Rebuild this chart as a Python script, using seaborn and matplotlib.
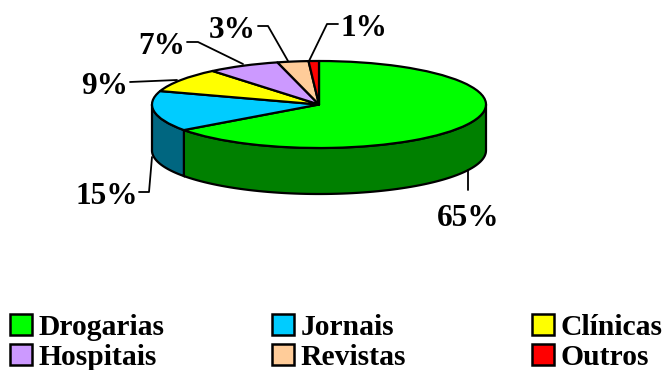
import matplotlib
matplotlib.use("Agg")
import matplotlib.pyplot as plt
import numpy as np
import seaborn as sns
from matplotlib.patches import Polygon, Patch

# Market share by sales channel
channels = ["Drogarias", "Jornais", "Clínicas", "Hospitais", "Revistas", "Outros"]
shares = [65, 15, 9, 7, 3, 1]
slice_colors = ["#00FF00", "#00CCFF", "#FFFF00", "#CC99FF", "#FFCC99", "#FF0000"]

W, H = 662, 370
sns.set_theme(style="white")
plt.rcParams["font.family"] = ["Liberation Serif", "DejaVu Serif"]
plt.rcParams["font.weight"] = "bold"

fig = plt.figure(figsize=(W / 100, H / 100), dpi=100, facecolor="white")


def px(x, y):
    """Pixel position (origin top-left) to figure fraction."""
    return x / W, 1 - y / H


# Axes spanning the top ellipse of the pie: unit circle squashed by the axes box
cx, cy, rx, ry, depth = 319, 104.5, 167, 43.5, 46
ax = fig.add_axes([(cx - rx) / W, 1 - (cy + ry) / H, 2 * rx / W, 2 * ry / H])
palette = sns.color_palette(slice_colors)
wedges, _ = ax.pie(
    shares, colors=palette, startangle=90, counterclock=False, radius=1,
    wedgeprops=dict(edgecolor="black", linewidth=1.6, joinstyle="round", clip_on=False, zorder=3),
)
ax.set_aspect("auto")
ax.set_xlim(-1, 1)
ax.set_ylim(-1, 1)
ax.axis("off")

# Extruded rim: only the part of each slice on the front half of the ellipse shows
drop = depth / ry
for wedge, color in zip(wedges, palette):
    lo, hi = max(wedge.theta1, -180), min(wedge.theta2, 0)
    if hi <= lo:
        continue
    t = np.radians(np.linspace(lo, hi, 80))
    x, y = np.cos(t), np.sin(t)
    pts = np.r_[np.c_[x, y], np.c_[x, y - drop][::-1]]
    ax.add_patch(Polygon(pts, closed=True, facecolor=np.array(color) * 0.5,
                         edgecolor="black", linewidth=1.6, clip_on=False, zorder=2))

# Percentage labels with elbowed leader lines
callouts = [
    ((468, 219), [(468, 170), (468, 190)]),
    ((107, 196), [(152, 157), (149, 192), (139, 192)]),
    ((105, 87), [(177, 80), (130, 82)]),
    ((162, 46), [(243, 64), (198, 42), (187, 42)]),
    ((232, 30), [(288, 61), (268, 26), (258, 26)]),
    ((364, 29), [(309, 61), (327, 24), (338, 24)]),
]
for share, (pos, leader) in zip(shares, callouts):
    fx, fy = px(*pos)
    fig.text(fx, fy, f"{share}%", fontsize=22.5, fontweight="bold", color="black",
             ha="center", va="center")
    lx, ly = zip(*(px(*p) for p in leader))
    fig.add_artist(plt.Line2D(lx, ly, color="black", linewidth=1.3,
                              transform=fig.transFigure))

# One two-row legend per column, so the columns sit at fixed positions
handles = [Patch(facecolor=c, edgecolor="black", linewidth=1.8) for c in palette]
columns = [(0, 3), (1, 4), (2, 5)]
column_left = [1, 263, 523]
for (top, bottom), left in zip(columns, column_left):
    fig.legend(
        [handles[top], handles[bottom]], [channels[top], channels[bottom]],
        loc="lower left", bbox_to_anchor=px(left, 380), frameon=False,
        handlelength=0.76, handleheight=0.7, handletextpad=0.2,
        labelspacing=0.1, borderpad=0.3, borderaxespad=0, labelcolor="black",
        prop=dict(family="Liberation Serif", weight="bold", size=21.3),
    )

fig.savefig("out.png", dpi=100, facecolor="white")
